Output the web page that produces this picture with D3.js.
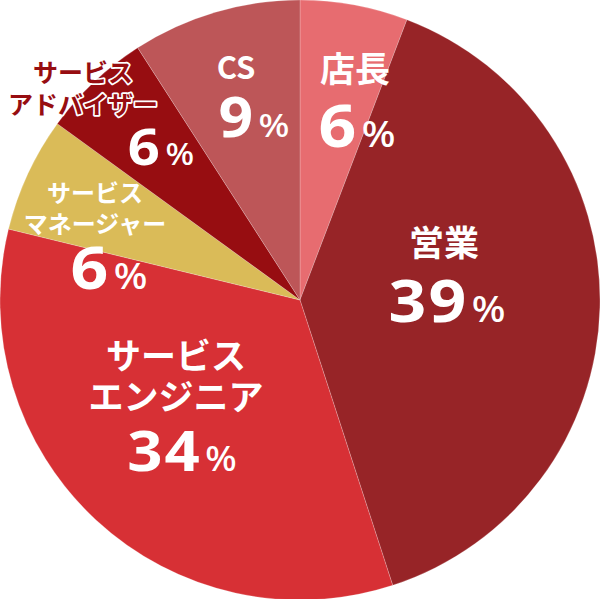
<!DOCTYPE html>
<html>
<head>
<meta charset="utf-8">
<script src="https://cdn.jsdelivr.net/npm/d3@7"></script>
<style>
  html, body { margin: 0; padding: 0; background: #fff; }
  svg { display: block; }
  .name { font-family: "Noto Sans CJK JP", "Noto Sans", sans-serif; font-weight: 700; }
  .pct { font-family: "Noto Sans", "Noto Sans CJK JP", sans-serif; font-weight: 700; }
</style>
</head>
<body>
<svg id="chart" width="600" height="599"></svg>
<script>
// slice data, clockwise from 12 o'clock
const categories = ['店長', '営業', 'サービスエンジニア', 'サービスマネージャー', 'サービスアドバイザー', 'CS'];
const nameLines = [['店長'], ['営業'], ['サービス', 'エンジニア'], ['サービス', 'マネージャー'], ['サービス', 'アドバイザー'], ['CS']];
const shares = [5.8, 39.2, 33.8, 6.2, 5.9, 9.1];
const labels = [6, 39, 34, 6, 6, 9];
const colors = ['#e76c70', '#972427', '#d73035', '#dabb58', '#970d11', '#bd5658'];

// label placement (absolute px) and sizes per slice
const labelLayout = {
  '店長':               { nx: 355, ny: [82],       nSize: 35, px: 357, py: 147, pSize: 60, fill: '#fff' },
  '営業':               { nx: 444, ny: [256],      nSize: 35, px: 447, py: 322, pSize: 60, fill: '#fff' },
  'サービスエンジニア':   { nx: 176, ny: [369, 410], nSize: 35, px: 182, py: 471, pSize: 56, fill: '#fff' },
  'サービスマネージャー': { nx: 95,  ny: [202, 233], nSize: 24, px: 109, py: 289, pSize: 60, fill: '#fff' },
  'サービスアドバイザー': { nx: 83,  ny: [82, 114],  nSize: 25, px: 161, py: 165, pSize: 51, fill: '#970d11', outline: true },
  'CS':                 { nx: 236, ny: [79],       nSize: 31, px: 254, py: 137, pSize: 55, fill: '#fff' }
};

const radius = 300;
const cx = 300, cy = 300;
const digitStretch = 1.1; // reference numerals are a bit wider than Noto Sans

const svg = d3.select('#chart');
const g = svg.append('g').attr('transform', `translate(${cx},${cy})`);

const data = categories.map((c, i) => ({ name: c, value: shares[i], color: colors[i] }));

const pie = d3.pie().sort(null).value(d => d.value);
const arc = d3.arc().innerRadius(0).outerRadius(radius);

g.selectAll('path.slice')
  .data(pie(data))
  .join('path')
  .attr('class', 'slice')
  .attr('d', arc)
  .attr('fill', d => d.data.color)
  .attr('stroke', 'rgba(255,255,255,0.35)')
  .attr('stroke-width', 0.6);

// labels
const lab = svg.append('g');
categories.forEach((c, i) => {
  const L = labelLayout[c];
  nameLines[i].forEach((line, j) => {
    const t = lab.append('text')
      .attr('class', 'name')
      .attr('x', L.nx)
      .attr('y', L.ny[j])
      .attr('text-anchor', 'middle')
      .attr('font-size', L.nSize)
      .attr('fill', L.fill)
      .text(line);
    if (L.outline) {
      t.attr('stroke', '#fff').attr('stroke-width', 3.5)
        .attr('stroke-linejoin', 'round').attr('paint-order', 'stroke');
    }
  });
  const p = lab.append('text')
    .attr('class', 'pct')
    .attr('transform', `translate(${L.px},${L.py}) scale(${digitStretch},1)`)
    .attr('text-anchor', 'middle')
    .attr('fill', '#fff');
  p.append('tspan').attr('font-size', L.pSize).attr('letter-spacing', 2).text(labels[i]);
  p.append('tspan').attr('font-size', L.pSize * 0.6).attr('font-weight', 500).attr('dx', 3).text('%');
});
</script>
</body>
</html>
